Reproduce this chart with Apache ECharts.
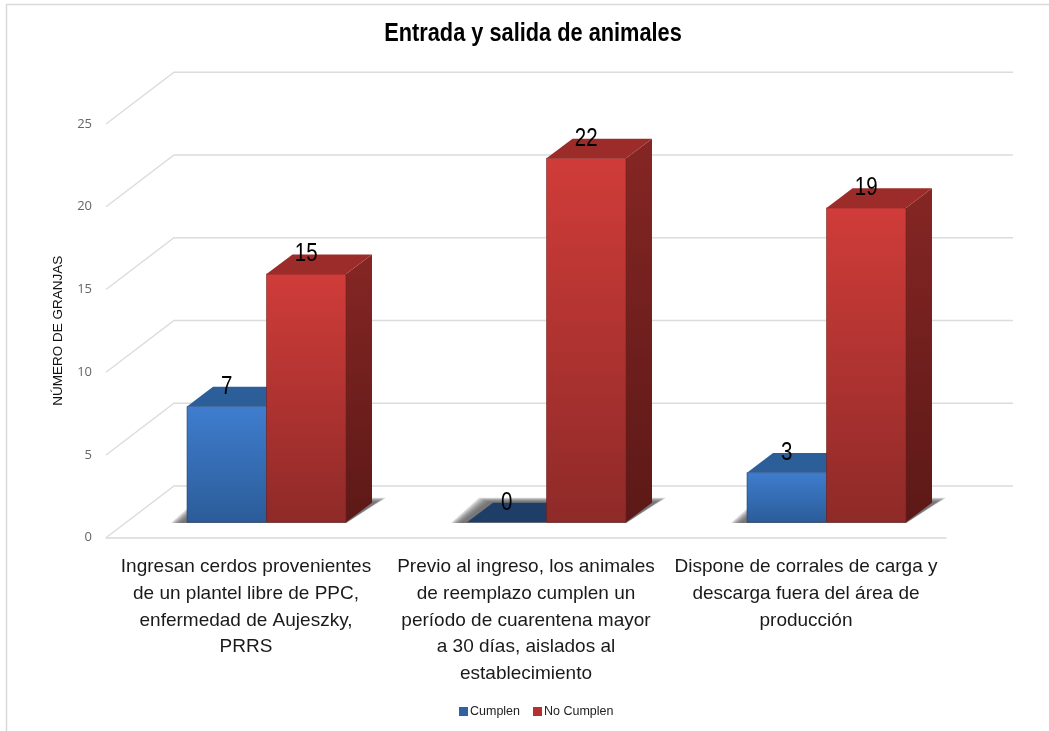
<!DOCTYPE html>
<html><head><meta charset="utf-8">
<style>html,body{margin:0;padding:0;background:#fff}#c{width:1049px;height:731px}</style>
<script src="https://cdn.jsdelivr.net/npm/echarts@6/dist/echarts.min.js"></script>
</head><body><div id="c"></div>
<script>
const categories = [
  "Ingresan cerdos provenientes\nde un plantel libre de PPC,\nenfermedad de Aujeszky,\nPRRS",
  "Previo al ingreso, los animales\nde reemplazo cumplen un\nperíodo de cuarentena mayor\na 30 días, aislados al\nestablecimiento",
  "Dispone de corrales de carga y\ndescarga fuera del área de\nproducción"
];
const cumplen = [7, 0, 3];
const noCumplen = [15, 22, 19];
const yTicks = [0, 5, 10, 15, 20, 25];
const titleText = "Entrada y salida de animales";
const yName = "NÚMERO DE GRANJAS";

const FONT = '"Liberation Sans",Arial,sans-serif';
const WALL_DX = 68, WALL_DY = 51.7;   // floor depth, front edge to back wall
const BAR_IN_X = 20.5, BAR_IN_Y = 15.4; // bar front plane inside the floor
const BAR_DX = 26, BAR_DY = 19.6;     // bar depth
const BAR_W = 79.5;

const grad = (a, b) => new echarts.graphic.LinearGradient(0, 0, 0, 1, [{offset: 0, color: a}, {offset: 1, color: b}]);
const poly = (points, style) => ({type: 'polygon', shape: {points}, style});

function barRenderer(side, pal) {
  return function (params, api) {
    const i = api.value(0), v = api.value(1);
    const top = api.coord([i, v]), base = api.coord([i, 0]);
    const cx = base[0] + BAR_IN_X;
    const x0 = side === 0 ? cx - BAR_W : cx, x1 = x0 + BAR_W;
    const yT = top[1] - BAR_IN_Y, yB = base[1] - BAR_IN_Y;
    const kids = [];
    if (v > 0) {
      kids.push(poly([[x1, yT], [x1 + BAR_DX, yT - BAR_DY], [x1 + BAR_DX, yB - BAR_DY], [x1, yB]],
        {fill: grad(pal.sideT, pal.sideB)}));
      kids.push({type: 'rect', shape: {x: x0, y: yT, width: BAR_W, height: yB - yT},
        style: {fill: grad(pal.frontT, pal.frontB), stroke: pal.edge, lineWidth: 1}});
    }
    kids.push(poly([[x0, yT], [x1, yT], [x1 + BAR_DX, yT - BAR_DY], [x0 + BAR_DX, yT - BAR_DY]],
      {fill: v > 0 ? pal.top : pal.zero}));
    kids.push({type: 'text', x: x0 + BAR_W / 2, y: yT - BAR_DY, scaleX: 0.82, z2: 10,
      style: {text: String(v), fill: '#000', font: '25px ' + FONT, align: 'center', verticalAlign: 'middle'}});
    return {type: 'group', children: kids};
  };
}
const blue = {frontT: '#3f7dcf', frontB: '#2b5c98', sideT: '#25507f', sideB: '#1e3f68', top: '#2c5f9a', zero: '#1e3e68', edge: 'rgba(30,60,110,0.55)'};
const red = {frontT: '#d03c39', frontB: '#8e2a28', sideT: '#852624', sideB: '#5c1917', top: '#9c2c2a', zero: '#9c2c2a', edge: 'rgba(110,30,30,0.55)'};

const SHADOW_LAYERS = [9, 7.5, 6, 4.5, 3, 1.5, 0];

const option = {
  animation: false,
  backgroundColor: '#fff',
  textStyle: {fontFamily: FONT},
  legend: {data: ['Cumplen', 'No Cumplen'], left: 454, top: 700, itemWidth: 9, itemHeight: 9, itemGap: 13,
    icon: 'rect', textStyle: {fontSize: 12.5, color: '#222', padding: [0, 0, 0, -3]}},
  grid: {left: 106, right: 103, top: 124, bottom: 193.3},
  xAxis: {type: 'category', data: categories,
    axisLine: {lineStyle: {color: '#d9d9d9', width: 1.5}}, axisTick: {show: false},
    axisLabel: {interval: 0, fontSize: 19, lineHeight: 26.7, color: '#1a1a1a', margin: 16}},
  yAxis: {type: 'value', min: 0, max: 25, interval: 5, name: yName, nameLocation: 'middle', nameGap: 41,
    nameTextStyle: {fontSize: 13.5, color: '#111'},
    axisLine: {show: false}, axisTick: {show: false}, splitLine: {show: false},
    axisLabel: {margin: 14, fontSize: 13, color: '#666', fontFamily: '"Open Sans",sans-serif'}},
  series: [
    {type: 'custom', silent: true, z: 1, data: yTicks.map(v => [0, v]), encode: {x: 0, y: 1},
      renderItem(params, api) {
        const y = api.coord([0, api.value(1)])[1], cs = params.coordSys;
        const x0 = cs.x, x1 = cs.x + WALL_DX, x2 = cs.x + cs.width + WALL_DX - 1;
        return {type: 'polyline', shape: {points: [[x0, y], [x1, y - WALL_DY], [x2, y - WALL_DY]]},
          style: {stroke: '#dcdcdc', lineWidth: 1.4, fill: null}};
      }},
    {type: 'custom', silent: true, z: 2, data: categories.map((c, i) => [i, 0]), encode: {x: 0, y: 1},
      renderItem(params, api) {
        const b = api.coord([api.value(0), 0]);
        const cx = b[0] + BAR_IN_X, y = b[1] - BAR_IN_Y;
        return {type: 'group', children: SHADOW_LAYERS.map(k => poly([
          [cx - BAR_W - 7 - k, y + 0.8],
          [cx + BAR_W, y + 0.8],
          [cx + BAR_W + BAR_DX + 5 + k, y - BAR_DY - 1 - k * 0.45],
          [cx - BAR_W + BAR_DX - 5 - k, y - BAR_DY - 1 - k * 0.45]
        ], {fill: 'rgba(85,85,85,0.2)'}))};
      }},
    {name: 'Cumplen', type: 'custom', z: 3, itemStyle: {color: '#2f62a3'}, data: cumplen.map((v, i) => [i, v]), encode: {x: 0, y: 1}, renderItem: barRenderer(0, blue)},
    {name: 'No Cumplen', type: 'custom', z: 4, itemStyle: {color: '#b5302e'}, data: noCumplen.map((v, i) => [i, v]), encode: {x: 0, y: 1}, renderItem: barRenderer(1, red)}
  ],
  graphic: [
    {type: 'polyline', silent: true, shape: {points: [[6.5, 731], [6.5, 4.5], [1049, 4.5]]}, style: {stroke: '#d9d9d9', lineWidth: 1.5, fill: null}},
    {type: 'text', x: 533, y: 34, scaleX: 0.837, style: {text: titleText, fill: '#000', font: 'bold 26px ' + FONT, align: 'center', verticalAlign: 'middle'}}
  ]
};
const chart = echarts.init(document.getElementById('c'), null, {renderer: 'canvas'});
chart.setOption(option);
</script></body></html>
